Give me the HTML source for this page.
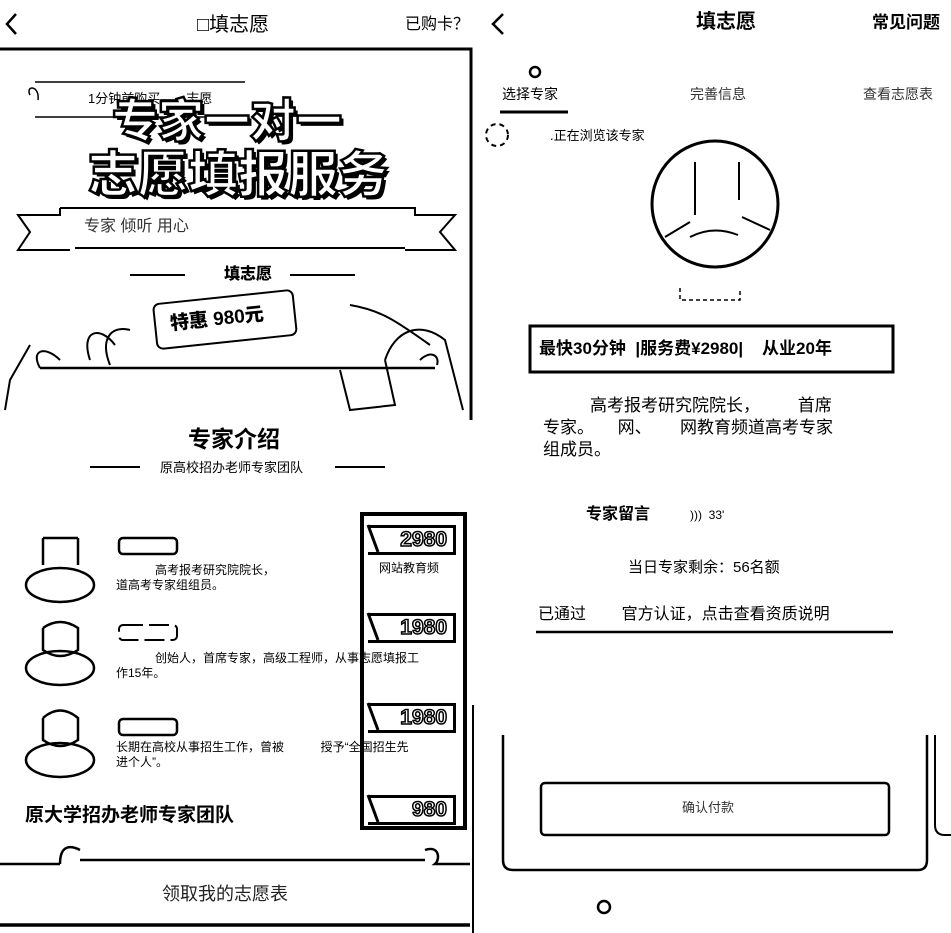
<!DOCTYPE html>
<html><head><meta charset="utf-8"><style>
*{margin:0;padding:0;box-sizing:border-box}
body{width:951px;height:933px;background:#fff;position:relative;overflow:hidden;font-family:"Liberation Sans","Noto Sans CJK SC",sans-serif;color:#000}
.t{position:absolute;white-space:nowrap;line-height:1}
svg{position:absolute;left:0;top:0}
.big{font-weight:900;color:#fff;-webkit-text-stroke:2.5px #000;text-shadow:3px 3px 0 #000}
.price{position:absolute;width:88px;height:30px;border:3px solid #000;border-left:none;font-weight:900;font-size:21px;color:#fff;-webkit-text-stroke:1.5px #000;text-align:right;padding-right:6px;line-height:24px}
</style></head><body>
<svg width="951" height="933" fill="none" stroke="#000">
<polyline points="16,14 7,24 16,34" stroke-width="2.5"/>
<polyline points="0,49 471,49 471,420" stroke-width="3"/>
<path d="M35,82 L245,82 M35,117 L245,117 M30,95 C25,85 40,85 38,100" stroke-width="1.5"/>
<path d="M60,208 L415,208 L415,215 L455,215 L440,232 L455,250 L405,250 M60,208 L60,215 L18,215 L30,232 L18,250 L70,250 M75,248 L405,248" stroke-width="2"/>
<path d="M130,275 L185,275 M290,275 L355,275" stroke-width="2"/>
<path d="M40,368 L435,368" stroke-width="2.5"/>
<path d="M40,368 C30,350 45,345 60,360 M5,410 L10,380 L30,345 M90,360 C80,330 100,325 115,345 M130,330 C110,325 100,340 110,365 M350,305 C380,310 395,320 430,345 M385,360 C395,330 420,320 445,340 L463,410 M420,360 C430,350 440,355 437,365 M340,370 L350,410 L395,405 L385,360" stroke-width="2"/>
<rect x="155" y="297" width="140" height="45" rx="6" transform="rotate(-6 225 320)" stroke-width="2"/>
<path d="M90,467 L140,467 M335,467 L385,467" stroke-width="2"/>
<g stroke-width="2.5">
<path d="M43,538 L43,565 M78,538 L78,565 M43,538 L78,538"/>
<ellipse cx="60" cy="585" rx="34" ry="17"/>
<path d="M43,628 L43,650 Q60,662 78,650 L78,628 Q60,616 43,628"/>
<ellipse cx="60" cy="668" rx="34" ry="17"/>
<path d="M43,718 L43,740 Q60,752 78,740 L78,718 Q60,703 43,718"/>
<ellipse cx="60" cy="760" rx="34" ry="17"/>
</g>
<rect x="119" y="538" width="58" height="16" rx="4" stroke-width="2.5"/>
<rect x="119" y="625" width="58" height="15" rx="4" stroke-width="2" stroke-dasharray="20 6"/>
<rect x="119" y="719" width="58" height="16" rx="4" stroke-width="2.5"/>
<rect x="362" y="514" width="103" height="314" stroke-width="4"/>
<path d="M368,525 L378,552 M368,613 L378,640 M368,703 L378,730 M368,795 L378,822" stroke-width="3"/>
<path d="M0,864 L60,864 M60,864 C60,845 70,845 80,850 M80,860 L425,860 M425,850 C440,845 440,860 435,864 L470,864" stroke-width="2.5"/>
<path d="M0,925 L470,925" stroke-width="3.5"/>
<path d="M473,705 L473,933" stroke-width="2"/>
<polyline points="503,14 493,24 503,34" stroke-width="2.5"/>
<circle cx="535" cy="72" r="5" stroke-width="2.5"/>
<path d="M500,112 L568,112" stroke-width="3"/>
<circle cx="497" cy="135" r="11" stroke-width="2" stroke-dasharray="5 4"/>
<circle cx="715" cy="204" r="63" stroke-width="3"/>
<path d="M695,162 L695,215 M739,162 L739,200 M665,237 L690,222 M742,217 L770,230 M690,237 Q713,225 738,235" stroke-width="2"/>
<path d="M680,288 L680,300 L740,300 L740,288" stroke-width="1.5" stroke-dasharray="4 3"/>
<rect x="530" y="326" width="363" height="46" stroke-width="3"/>
<path d="M536,632 L893,632" stroke-width="2.5"/>
<path d="M503,735 L503,860 Q503,870 513,870 L918,870 Q927,870 927,860 L927,735" stroke-width="2.5"/>
<rect x="541" y="783" width="348" height="52" rx="4" stroke-width="2.5"/>
<circle cx="604" cy="907" r="6" stroke-width="2.5"/>
<path d="M935,735 L935,825 Q935,835 945,835 L951,835" stroke-width="2"/>
</svg>

<div class="t" style="left:197px;top:15px;font-size:20px">□填志愿</div>
<div class="t" style="left:405px;top:17px;font-size:16px">已购卡？</div>
<div class="t" style="left:88px;top:92px;font-size:13px">1分钟前购买——志愿</div>
<div class="t big" style="left:112px;top:98px;font-size:46px">专家一对一</div>
<div class="t big" style="left:88px;top:150px;font-size:50px">志愿填报服务</div>
<div class="t" style="left:84px;top:219px;font-size:16px;color:#333">专家 倾听 用心</div>
<div class="t" style="left:224px;top:267px;font-size:16px;font-weight:900">填志愿</div>
<div class="t" style="left:170px;top:310px;font-size:19px;font-weight:900;transform:rotate(-6deg)">特惠 980元</div>
<div class="t" style="left:188px;top:428px;font-size:23px;font-weight:bold">专家介绍</div>
<div class="t" style="left:160px;top:461px;font-size:13px">原高校招办老师专家团队</div>
<div class="t" style="left:155px;top:564px;font-size:12px">高考报考研究院院长，</div>
<div class="t" style="left:116px;top:579px;font-size:12px">道高考专家组组员。</div>
<div class="t" style="left:155px;top:652px;font-size:12px">创始人，首席专家，高级工程师，从事志愿填报工</div>
<div class="t" style="left:116px;top:667px;font-size:12px">作15年。</div>
<div class="t" style="left:116px;top:741px;font-size:12px">长期在高校从事招生工作，曾被 &nbsp; &nbsp; &nbsp; &nbsp; &nbsp; 授予“全国招生先</div>
<div class="t" style="left:116px;top:756px;font-size:12px">进个人”。</div>
<div class="price" style="left:368px;top:525px">2980</div>
<div class="t" style="left:379px;top:562px;font-size:12px">网站教育频</div>
<div class="price" style="left:368px;top:613px">1980</div>
<div class="price" style="left:368px;top:703px">1980</div>
<div class="price" style="left:368px;top:795px">980</div>
<div class="t" style="left:25px;top:806px;font-size:19px;font-weight:bold">原大学招办老师专家团队</div>
<div class="t" style="left:162px;top:885px;font-size:18px;color:#222">领取我的志愿表</div>

<div class="t" style="left:696px;top:12px;font-size:20px;font-weight:bold">填志愿</div>
<div class="t" style="left:872px;top:14px;font-size:17px;font-weight:bold">常见问题</div>
<div class="t" style="left:502px;top:87px;font-size:14px">选择专家</div>
<div class="t" style="left:690px;top:87px;font-size:14px;color:#333">完善信息</div>
<div class="t" style="left:863px;top:87px;font-size:14px;color:#333">查看志愿表</div>
<div class="t" style="left:550px;top:129px;font-size:13px">.正在浏览该专家</div>
<div class="t" style="left:539px;top:340px;font-size:17px;font-weight:bold">最快30分钟 &nbsp;|服务费¥2980| &nbsp; &nbsp;从业20年</div>
<div class="t" style="left:590px;top:397px;font-size:17px">高考报考研究院院长，&nbsp; &nbsp; &nbsp; &nbsp; 首席</div>
<div class="t" style="left:543px;top:419px;font-size:17px">专家。 &nbsp; &nbsp; 网、 &nbsp; &nbsp; &nbsp;网教育频道高考专家</div>
<div class="t" style="left:543px;top:441px;font-size:17px">组成员。</div>
<div class="t" style="left:586px;top:507px;font-size:16px;font-weight:bold">专家留言</div>
<div class="t" style="left:690px;top:509px;font-size:12px">))) &nbsp;33'</div>
<div class="t" style="left:628px;top:560px;font-size:15px">当日专家剩余：56名额</div>
<div class="t" style="left:538px;top:607px;font-size:16px">已通过 &nbsp; &nbsp; &nbsp; &nbsp;官方认证，点击查看资质说明</div>
<div class="t" style="left:682px;top:801px;font-size:13px;color:#333">确认付款</div>
</body></html>
